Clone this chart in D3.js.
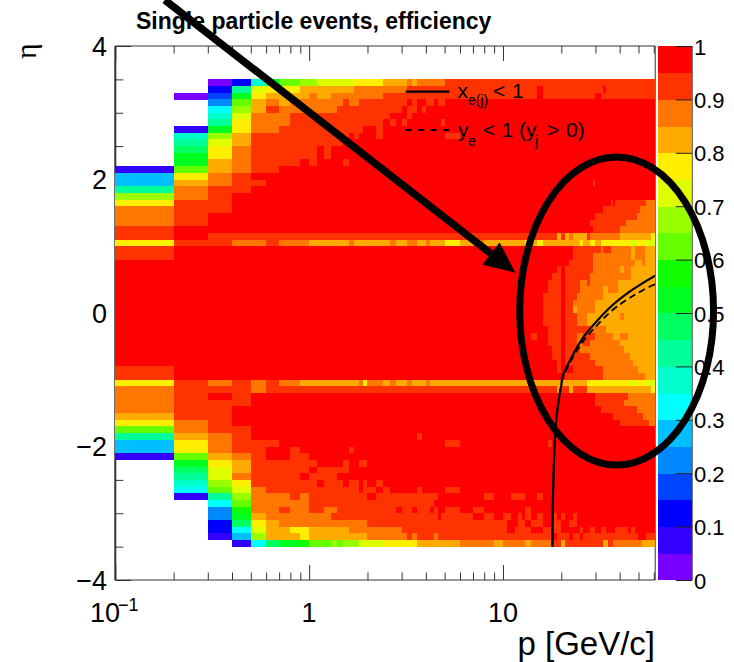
<!DOCTYPE html>
<html><head><meta charset="utf-8">
<style>html,body{margin:0;padding:0;background:#fff}svg{display:block}text{font-family:"Liberation Sans",Arial,sans-serif;fill:#000}</style>
<script src="https://cdn.jsdelivr.net/npm/d3@7/dist/d3.min.js"></script>
</head><body><div id="c"></div>
<script>
// one letter per efficiency band (a = 0-0.05 ... t = 0.95-1); w = empty
const levelLetters = "abcdefghijklmnopqrst";
const levelColors = ["#7700ff","#3300ff","#0000ff","#0044ff","#0088ff","#00bfff","#00ffff","#00ffcc","#00ff99","#00ff60","#00ff20","#11ff00","#66ff00","#99ff00","#ddff00","#ffee00","#ffaa00","#ff7700","#ff3300","#ff0000"];
// eta rows from +3.5 down to -3.5, step 0.1: each token = band letter + p where the run ends
const etaRows = [
"w.3 a.4 c.5 h.6 k.7 m.9 n1.1 o1.7 p2.4 q3.2 r3.4 q3.6 r5 s61",
"w.3 c.4 i.5 o.6 p.9 q1.7 r3.2 s15 t16 s33 t34 s61",
"w.2 a.3 d.4 k.5 p.6 q1 r1.1 q1.3 r2.4 s15 t16 s30 t32 s61",
"w.3 e.4 m.5 q.6 r.7 q.8 r1.5 s1.6 r1.8 s3.2 t3.4 s3.6 t4 s4.4 t4.6 s5 t61",
"w.3 g.4 n.5 q.6 s.7 r1.4 s3 t3.2 s3.6 t3.8 s4 t61",
"w.3 h.4 o.5 r.8 s2.6 t3.2 s3.4 t61",
"w.3 i.4 p.5 r.8 s2.4 t2.6 s2.8 t3 s3.2 t4.8 s5 t61",
"w.2 b.3 k.4 p.5 r.7 s1.9 t2.2 s2.4 t61",
"w.2 h.3 n.4 q.5 s1.6 t1.7 s1.8 t2.2 s2.4 t5 s6 t61",
"w.2 i.3 o.4 q.5 s1.5 t61",
"w.2 j.3 p.4 r.5 s1.1 t1.2 s1.3 t61",
"w.2 k.3 p.4 r.5 s1.1 t1.2 s1.3 t61",
"w.2 k.3 q.4 r.5 s.9 t1 s1.1 t1.5 s1.6 t61",
"b.2 m.3 q.4 r.5 s.7 t61",
"f.2 p.3 r.4 s.5 t61",
"f.2 q.3 r.4 s.6 t29 s30 t61",
"i.2 r.3 s.5 t61",
"n.2 r.3 s.4 t61",
"p.2 s.4 t36 s37 t38 s55 r61",
"r.2 s.4 t33 s51 r61",
"r.2 s.3 t30 s49 r61",
"r.2 s.3 t28 s43 r61",
"s.2 t29 s40 r61",
"s.2 t.3 s19 q20 s21 q22 r23 q27 s28 r40 q58 p61",
"p.2 s.4 r.6 s.7 r1 q1.6 r1.7 q2.6 r2.8 q3.2 r3.6 q4 r4.2 q5 p6 q7 r8 q13 p14 q15 p16 q25 p26 q28 p30 q32 p45 o50 p55 o61",
"s.2 t23 s32 r33 s36 r46 q48 r54 q61",
"s.2 t23 s29 r46 q48 r54 q61",
"t22 s29 r48 q52 r54 q61",
"t19 s20 t21 s29 r40 q42 r46 q61",
"t18 s20 t21 s28 r46 q61",
"t17 s20 t21 s25 r27 s28 r39 q61",
"t17 s20 t21 s25 r33 q35 r39 q61",
"t16 s20 t21 s24 r33 q61",
"t16 s20 t21 s23 r30 q61",
"t16 s20 t21 s23 q24 r30 q61",
"t16 s20 t21 s24 r27 q40 r42 q61",
"t16 s20 t21 s24 r27 q61",
"t17 s20 t21 s28 r34 q61",
"t14 s15 t17 s20 t21 s24 r26 s30 r37 q40 r44 q61",
"t17 s20 t21 s24 r26 s28 r40 q61",
"t18 s20 t21 s25 r42 q61",
"t18 s20 t21 s28 r45 q61",
"t19 s20 t21 s30 r47 q61",
"s.2 t19 s20 t23 s33 r50 q61",
"s.2 t21 s33 r54 q61",
"p.2 s.3 r.4 s.5 r.6 s.7 r.9 q1.8 r1.9 p2 r2.4 q2.6 r2.8 q3.2 r3.4 q4 r4.2 q27 p45 o50 p55 o61",
"r.2 s.5 r.6 s19 q20 s22 q23 s27 q58 p61",
"r.2 s.3 t.4 s.5 t30 s44 r61",
"r.2 s.5 t30 s42 r61",
"r.2 s.4 t32 s49 r61",
"q.2 s.4 t37 s53 r61",
"p.2 r.3 s.4 t40 s57 r61",
"m.2 r.3 s.5 t61",
"i.2 q.3 r.4 s.5 t3.6 s3.8 t61",
"f.2 p.3 r.4 s.7 t5 s6 t17 s18 t61",
"f.2 p.3 r.4 s.6 t.8 s.9 t1.6 s1.7 t61",
"b.2 m.3 q.4 r.5 s.6 t.8 s1 t61",
"w.2 k.3 p.4 q.5 s1.1 t1.5 s1.6 t1.8 s2 t61",
"w.2 j.3 o.4 q.5 s1 t1.1 s1.6 t61",
"w.2 i.3 o.4 r.5 s.9 t1 s1.4 t61",
"w.2 h.3 n.4 p.5 s1.1 t1.2 s1.5 t1.6 s1.8 t1.9 s2 t2.2 s2.4 t61",
"w.2 g.3 m.4 o.5 r.6 s1.8 t1.9 s2.2 t2.4 s2.6 t3.6 s3.8 t5 s6 t61",
"w.2 b.3 i.4 n.5 r.8 s.9 r1 s2 t2.2 s4.6 t8 s9 t11 s13 t15 s16 t61",
"w.3 g.4 m.5 r1 s4.4 t61",
"w.3 e.4 l.5 r.7 s.8 r1 s1.2 r1.4 s2.8 t3 s3.4 t3.6 s4.2 t4.4 s4.6 t5 s6 t7 s8 t13 s14 t61",
"w.3 e.4 k.5 q.6 r1.3 s4.6 t4.8 s7 t8 s9 t10 s11 t12 s12.5 t13 s14 t15 s16 t18 s19 t20 s21 t23 s24 t61",
"w.3 c.4 j.5 p.6 q.7 r2 s10.5 t12 s13 t14 s16 t18 s20 t22 s24 t61",
"w.3 c.4 g.5 o.6 q.8 p1 q1.6 r3 s10.5 t11.5 s14 t16 s20 t25 s26 t28 s30 t32 s34 t38 s44 t46 s48 t61",
"w.3 b.4 f.5 n.6 q.9 p1 q2 r3.2 s3.4 r3.6 s4.4 r4.6 s18 t19 s22 t23 s25 t26 s50 t55 s61",
"w.4 b.5 g.6 j.7 k.9 l1 m1.3 n1.4 m1.5 n1.8 o2.4 p3.6 q6 r9 q10 r13 q14 r18 s20 q21 s33 q35 s37 r52 q61"
];
const solidP =   [18.0,18.1,18.7,19.4,20,20.3,22.5,25.8,30.3,36.8,45,61];
const solidEta = [-3.5,-2.8,-1.7,-1.3,-1.08,-.954,-.674,-.375,-.13,.12,.32,.56];
const dashP =   [18.0,18.1,18.7,19.4,20,20.4,23,25.8,30.3,36.8,45,57,61];
const dashEta = [-3.5,-2.8,-1.7,-1.3,-1.08,-.96,-.66,-.43,-.195,.045,.225,.394,.43];
const xMajor = [0.1,1,10];
const xMinor = [.2,.3,.4,.5,.6,.7,.8,.9,2,3,4,5,6,7,8,9,20,30,40,50,60];
const yMajor = [-4,-2,0,2,4];
const yMinor = [-3.5,-3,-2.5,-1.5,-1,-.5,.5,1,1.5,2.5,3,3.5];
const zTicks = [0,.1,.2,.3,.4,.5,.6,.7,.8,.9,1];
const titleText = "Single particle events, efficiency";
const ellipseBox = {p0:12.2,p1:122,eta0:2.337,eta1:-2.277};
const arrowFrom = {p:.18,eta:4.69}, arrowTo = {p:11.6,eta:.604};

const W=734,H=662;
const svg=d3.select("#c").append("svg").attr("width",W).attr("height",H);
const x=d3.scaleLog().domain([.1,61]).range([115.3,655.2]);
const y=d3.scaleLinear().domain([-4,4]).range([580,46]);
const z=d3.scaleLinear().domain([0,1]).range([580,46]);

// frame and axes
function axis(gen,tx,ty){
  const g=svg.append("g").attr("transform",`translate(${tx},${ty})`).call(gen.tickFormat(""));
  g.select(".domain").remove();
  g.selectAll("line").attr("stroke","#333").attr("stroke-width",1);
}
axis(d3.axisBottom(x).tickValues(xMajor).tickSize(-15),0,580);
axis(d3.axisBottom(x).tickValues(xMinor).tickSize(-7.5),0,580);
axis(d3.axisTop(x).tickValues(xMajor).tickSize(-15),0,46);
axis(d3.axisTop(x).tickValues(xMinor).tickSize(-7.5),0,46);
axis(d3.axisLeft(y).tickValues(yMajor).tickSize(-16),115.3,0);
axis(d3.axisLeft(y).tickValues(yMinor).tickSize(-8),115.3,0);
svg.append("path").attr("d",`M115.3 46H655.2V580H115.3`).attr("fill","none").attr("stroke","#333").attr("stroke-width",1);
svg.append("line").attr("x1",115.3).attr("x2",115.3).attr("y1",46).attr("y2",580).attr("stroke","#333").attr("stroke-width",2);

// heat map
const rowH=Math.abs(y(0)-y(.1));
const cells=[];
etaRows.forEach((row,i)=>{
  let p0=.1;
  row.split(" ").forEach(tok=>{
    const l=tok[0],p1=parseFloat(tok.slice(1));
    if(l!=="w") cells.push({p0,p1,eta:3.5-.1*i,l});
    p0=p1;
  });
});
svg.append("g").attr("shape-rendering","crispEdges").selectAll("rect").data(cells).join("rect")
  .attr("x",d=>x(d.p0)).attr("width",d=>x(d.p1)-x(d.p0))
  .attr("y",d=>y(d.eta)).attr("height",rowH+.4)
  .attr("fill",d=>levelColors[levelLetters.indexOf(d.l)]);

// colour bar
svg.append("g").attr("shape-rendering","crispEdges").selectAll("rect").data(levelColors).join("rect")
  .attr("x",658).attr("width",34.3)
  .attr("y",(d,i)=>z((i+1)*.05)).attr("height",(d,i)=>z(i*.05)-z((i+1)*.05)+.4)
  .attr("fill",d=>d);
svg.append("line").attr("x1",692.3).attr("x2",692.3).attr("y1",46).attr("y2",580).attr("stroke","#555");
const zg=svg.append("g").attr("transform","translate(692.3,0)").call(d3.axisLeft(z).tickValues(zTicks).tickSize(16.5).tickFormat(""));
zg.select(".domain").remove();zg.selectAll("line").attr("stroke","#222");
svg.append("g").selectAll("text").data(zTicks).join("text")
  .attr("x",694).attr("y",d=>z(d)+8.5).attr("font-size",22).text(d=>d===0||d===1?d:d.toFixed(1));

// curves
const line=d3.line().curve(d3.curveCatmullRom.alpha(.5)).x(d=>x(d[0])).y(d=>y(d[1]));
svg.append("clipPath").attr("id","pl").append("rect").attr("x",115).attr("y",46).attr("width",540).attr("height",534);
svg.append("path").attr("d",line(dashP.map((p,i)=>[p,dashEta[i]]))).attr("fill","none").attr("stroke","#000").attr("stroke-width",1.8).attr("stroke-dasharray","7 4").attr("clip-path","url(#pl)");
svg.append("path").attr("d",line(solidP.map((p,i)=>[p,solidEta[i]]))).attr("fill","none").attr("stroke","#000").attr("stroke-width",2.2).attr("clip-path","url(#pl)");

// legend
svg.append("line").attr("x1",405.7).attr("x2",449.3).attr("y1",91.7).attr("y2",91.7).attr("stroke","#000").attr("stroke-width",2.2);
svg.append("line").attr("x1",405.7).attr("x2",449.3).attr("y1",130).attr("y2",130).attr("stroke","#000").attr("stroke-width",1.8).attr("stroke-dasharray","6 6.5");
function t(xp,yp,s,size,extra){const e=svg.append("text").attr("x",xp).attr("y",yp).attr("font-size",size).text(s);if(extra)extra(e);return e;}
t(457.5,98,"x",21);t(468,105,"e(j)",14);t(493,98,"<",21);t(512,98,"1",21);
t(458,137,"y",21);t(468,146,"e",14);t(483,137,"<",21);t(501.5,137,"1",21);t(519,137,"(y",21);t(535,146,"j",14);t(547,137,">",21);t(566,137,"0)",21);

// tick labels
svg.append("g").selectAll("text").data(yMajor).join("text").attr("x",107).attr("y",d=>y(d)+9.5).attr("text-anchor","end").attr("font-size",27).text(d=>d<0?"\u2212"+(-d):d);
t(90,622,"10",27);t(118,611,"\u22121",18);
svg.append("g").selectAll("text").data([1,10]).join("text").attr("x",d=>x(d)).attr("y",622).attr("text-anchor","middle").attr("font-size",27).text(d=>d);
t(655,655,"p [GeV/c]",33,e=>e.attr("text-anchor","end"));
t(136,29,titleText,23,e=>e.attr("font-weight","bold"));
svg.append("text").attr("transform","translate(36,59) rotate(-90)").attr("font-size",30).style("font-family",'"Liberation Serif",serif').text("\u03b7");

// annotations
svg.append("ellipse")
  .attr("cx",(x(ellipseBox.p0)+x(ellipseBox.p1))/2).attr("cy",(y(ellipseBox.eta0)+y(ellipseBox.eta1))/2)
  .attr("rx",(x(ellipseBox.p1)-x(ellipseBox.p0))/2).attr("ry",(y(ellipseBox.eta1)-y(ellipseBox.eta0))/2)
  .attr("fill","none").attr("stroke","#000").attr("stroke-width",7);
const ax0=x(arrowFrom.p),ay0=y(arrowFrom.eta),ax1=x(arrowTo.p),ay1=y(arrowTo.eta);
const L=Math.hypot(ax1-ax0,ay1-ay0),ux=(ax1-ax0)/L,uy=(ay1-ay0)/L,hl=31,hw=14;
svg.append("line").attr("x1",ax0).attr("y1",ay0).attr("x2",ax1-ux*hl).attr("y2",ay1-uy*hl).attr("stroke","#000").attr("stroke-width",7.5);
svg.append("path").attr("d",`M${ax1} ${ay1}L${ax1-ux*hl-uy*hw} ${ay1-uy*hl+ux*hw}L${ax1-ux*hl+uy*hw} ${ay1-uy*hl-ux*hw}Z`).attr("fill","#000");
</script></body></html>
